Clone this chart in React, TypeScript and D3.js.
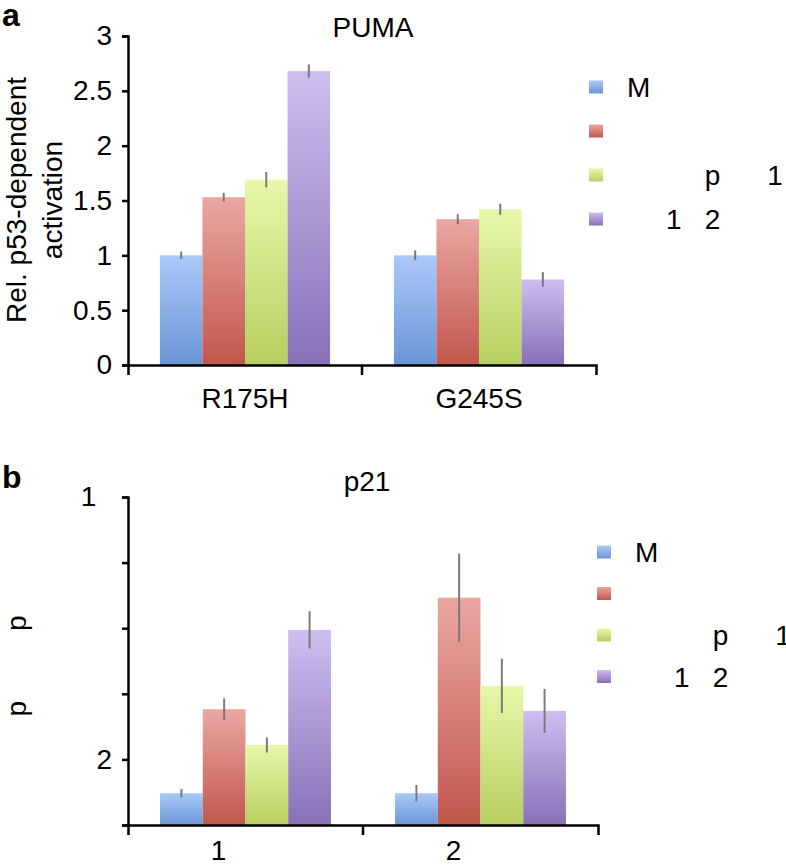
import React, { useEffect, useRef } from "react";
import * as d3 from "d3";

// PUMA panel
const pumaCategories = ["R175H", "G245S"];
const pumaValues = [
  [1.0, 1.53, 1.69, 2.68],
  [1.0, 1.33, 1.42, 0.78],
];
const pumaErrors = [
  [0.035, 0.04, 0.07, 0.06],
  [0.045, 0.045, 0.05, 0.067],
];
const pumaTicks = [0, 0.5, 1, 1.5, 2, 2.5, 3];
const pumaTickLabels = ["0", "0.5", "1", "1.5", "2", "2.5", "3"];

// p21 panel (only some glyphs survive in the original)
const p21Categories = ["1", "2"];
const p21Values = [
  [0.97, 3.53, 2.44, 5.95],
  [0.97, 6.93, 4.24, 3.48],
];
const p21Errors = [
  [0.13, 0.33, 0.23, 0.57],
  [0.25, 1.35, 0.83, 0.67],
];
const p21Ticks = [0, 2, 4, 6, 8, 10];
const p21TickLabels = ["", "2", "", "", "", "1\u2007"];

const seriesKeys = ["s1", "s2", "s3", "s4"];
const legendLabels = [
  "M",
  "",
  "\u2007\u2007\u2007\u2007\u2007p\u2007\u2007\u20071",
  "\u2007\u2007 1\u2007 2",
];
const seriesColors = [
  ["#abc9f9", "#6a95d6"],
  ["#eba7a2", "#c1574d"],
  ["#e7f8aa", "#b6cf60"],
  ["#cdbef0", "#8970b7"],
];

const FONT = "'Liberation Sans', Arial, Helvetica, sans-serif";
const FS = 28;

const App = () => {
  const svgRef = useRef<SVGSVGElement>(null);

  useEffect(() => {
    document.body.style.margin = "0";
    const svg = d3.select(svgRef.current);
    svg.selectAll("*").remove();

    const defs = svg.append("defs");
    seriesColors.forEach((c, i) => {
      const g = defs
        .append("linearGradient")
        .attr("id", `grad${i}`)
        .attr("x1", 0)
        .attr("y1", 0)
        .attr("x2", 0)
        .attr("y2", 1);
      g.append("stop").attr("offset", "0%").attr("stop-color", c[0]);
      g.append("stop").attr("offset", "100%").attr("stop-color", c[1]);
    });

    const drawPanel = (opts) => {
      const {
        categories,
        values,
        errors,
        ticks,
        tickLabels,
        yMax,
        x0,
        x1,
        yTop,
        yBottom,
        title,
        titleX,
        titleY,
        letter,
        letterY,
        labelDx,
        labelPad,
        legendX,
        legendY,
        legendStep,
      } = opts;

      const g = svg.append("g");

      const x = d3.scaleBand().domain(categories).range([x0, x1]).padding(0);
      const xs = d3
        .scaleBand()
        .domain(seriesKeys)
        .range([0, x.bandwidth()])
        .paddingInner(0)
        .paddingOuter(0.75);
      const y = d3.scaleLinear().domain([0, yMax]).range([yBottom, yTop]);

      // bars
      categories.forEach((cat, ci) => {
        seriesKeys.forEach((k, si) => {
          const v = values[ci][si];
          g.append("rect")
            .attr("x", x(cat) + xs(k))
            .attr("y", y(v))
            .attr("width", xs.bandwidth())
            .attr("height", y(0) - y(v))
            .attr("fill", `url(#grad${si})`);
        });
      });
      // error bars
      categories.forEach((cat, ci) => {
        seriesKeys.forEach((k, si) => {
          const v = values[ci][si];
          const e = errors[ci][si];
          const cx = x(cat) + xs(k) + xs.bandwidth() / 2;
          g.append("line")
            .attr("x1", cx)
            .attr("x2", cx)
            .attr("y1", y(v - e))
            .attr("y2", y(v + e))
            .attr("stroke", "#7a7a7a")
            .attr("stroke-width", 2);
        });
      });

      // y axis
      const ya = g
        .append("g")
        .attr("transform", `translate(${x0},0)`)
        .call(
          d3
            .axisLeft(y)
            .tickValues(ticks)
            .tickFormat((d, i) => tickLabels[i])
            .tickSize(6)
            .tickPadding(10)
        );
      ya.select(".domain").attr("stroke-width", 2.5);
      ya.selectAll(".tick line").attr("stroke-width", 2.5);
      ya.selectAll("text")
        .attr("font-family", FONT)
        .attr("font-size", FS)
        .attr("fill", "#000")
        .style("white-space", "pre");

      // x axis
      const xa = g
        .append("g")
        .attr("transform", `translate(0,${yBottom})`)
        .call(d3.axisBottom(x).tickSizeInner(0).tickSizeOuter(10).tickPadding(labelPad));
      xa.select(".domain").attr("stroke-width", 2.5);
      xa.selectAll("text")
        .attr("font-family", FONT)
        .attr("font-size", FS)
        .attr("fill", "#000")
        .attr("dx", labelDx);
      // boundary tick between groups
      categories.slice(1).forEach((cat) => {
        g.append("line")
          .attr("x1", x(cat))
          .attr("x2", x(cat))
          .attr("y1", yBottom)
          .attr("y2", yBottom + 10)
          .attr("stroke", "#000")
          .attr("stroke-width", 2.5);
      });

      // title
      g.append("text")
        .attr("x", titleX)
        .attr("y", titleY)
        .attr("text-anchor", "middle")
        .attr("font-family", FONT)
        .attr("font-size", FS)
        .text(title);

      // panel letter
      g.append("text")
        .attr("x", 2)
        .attr("y", letterY)
        .attr("font-family", FONT)
        .attr("font-weight", "bold")
        .attr("font-size", 32)
        .text(letter);

      // legend
      seriesKeys.forEach((k, si) => {
        const ly = legendY + si * legendStep;
        g.append("rect")
          .attr("x", legendX)
          .attr("y", ly - 6.5)
          .attr("width", 14)
          .attr("height", 13)
          .attr("fill", `url(#grad${si})`);
        g.append("text")
          .attr("x", legendX + 38)
          .attr("y", ly + 10)
          .attr("font-family", FONT)
          .attr("font-size", FS)
          .style("white-space", "pre")
          .attr("xml:space", "preserve")
          .text(legendLabels[si]);
      });

      return g;
    };

    drawPanel({
      categories: pumaCategories,
      values: pumaValues,
      errors: pumaErrors,
      ticks: pumaTicks,
      tickLabels: pumaTickLabels,
      yMax: 3,
      x0: 128,
      x1: 596,
      yTop: 36,
      yBottom: 365,
      title: "PUMA",
      titleX: 373,
      titleY: 37,
      letter: "a",
      letterY: 26,
      labelDx: 0,
      labelPad: 23,
      legendX: 589,
      legendY: 87,
      legendStep: 44,
    });

    // y label, panel a
    const yl = svg
      .append("text")
      .attr("transform", "translate(26,200) rotate(-90)")
      .attr("text-anchor", "middle")
      .attr("font-family", FONT)
      .attr("font-size", FS);
    yl.append("tspan").attr("x", 0).text("Rel. p53-dependent");
    yl.append("tspan").attr("x", 0).attr("dy", 36).text("activation");

    drawPanel({
      categories: p21Categories,
      values: p21Values,
      errors: p21Errors,
      ticks: p21Ticks,
      tickLabels: p21TickLabels,
      yMax: 10,
      x0: 128,
      x1: 598,
      yTop: 497,
      yBottom: 825,
      title: "p21",
      titleX: 367,
      titleY: 491,
      letter: "b",
      letterY: 488,
      labelDx: -27,
      labelPad: 15,
      legendX: 597,
      legendY: 552,
      legendStep: 41.5,
    });

    // y label, panel b (only the "p" glyphs remain)
    svg
      .append("text")
      .attr("transform", "translate(26,666) rotate(-90)")
      .attr("text-anchor", "middle")
      .attr("font-family", FONT)
      .attr("font-size", FS)
      .style("white-space", "pre")
      .attr("xml:space", "preserve")
      .text("p         p");
  }, []);

  return <svg ref={svgRef} width={786} height={866} style={{ display: "block" }} />;
};

export default App;
